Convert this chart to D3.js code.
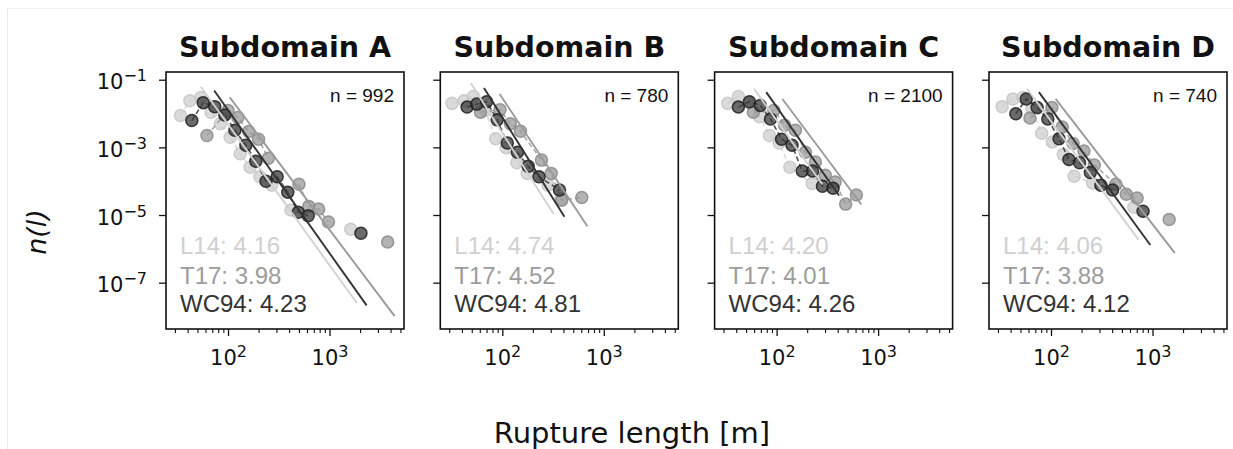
<!DOCTYPE html>
<html>
<head>
<meta charset="utf-8">
<script src="https://cdn.jsdelivr.net/npm/d3@7"></script>
<style>
  body { margin: 0; background: #fff; }
  svg { display: block; }
</style>
</head>
<body>
<svg id="chart" width="1233" height="449"></svg>
<script>
// ---------------- DATA ----------------
const titles = ["Subdomain A", "Subdomain B", "Subdomain C", "Subdomain D"];
const counts = [992, 780, 2100, 740];
const seriesNames = ["L14", "T17", "WC94"];
const expL14 = [4.16, 4.74, 4.20, 4.06];
const expT17 = [3.98, 4.52, 4.01, 3.88];
const expWC94 = [4.23, 4.81, 4.26, 4.12];

const yTicks = [1e-1, 1e-3, 1e-5, 1e-7];
const xTicks = [100, 1000];
const xMinorTicks = [30, 40, 50, 60, 70, 80, 90, 200, 300, 400, 500, 600, 700, 800, 900, 2000, 3000, 4000, 5000];

// Binned density points: [rupture length (m), n(l)]
const A_L14 = [[34,8.7e-3],[42,2.4e-2],[54,3.0e-2],[68,1.1e-2],[84,5.0e-3],[105,2.0e-3],[132,6.5e-4],[165,2.6e-4],[206,1.35e-4],[269,7.6e-5],[417,1.4e-5],[1620,3.8e-6]];
const A_T17 = [[62,2.24e-3],[100,1.23e-2],[125,7.6e-3],[160,2.95e-3],[200,1.74e-3],[250,4.8e-4],[500,8.1e-5],[625,1.8e-5],[782,1.5e-5],[977,6.2e-6],[3740,1.6e-6]];
const A_WC94 = [[44,6.2e-3],[57,2.1e-2],[74,1.6e-2],[93,9.1e-3],[117,3.2e-3],[150,1.15e-3],[188,3.9e-4],[237,1.0e-4],[305,1.35e-4],[388,4.7e-5],[492,1.2e-5],[617,9.5e-6],[2040,2.9e-6]];

const B_L14 = [[32,2.0e-2],[42,2.4e-2],[52,3.2e-2],[68,1.23e-2],[86,1.8e-3],[109,9.8e-4],[139,3.5e-4],[176,1.7e-4],[282,7.6e-5],[380,3.1e-5]];
const B_T17 = [[61,1.1e-2],[95,1.3e-2],[120,5.0e-3],[151,3.0e-3],[243,4.2e-4],[303,1.7e-4],[385,2.75e-5],[607,3.3e-5]];
const B_WC94 = [[45,1.55e-2],[56,1.9e-2],[70,2.24e-2],[89,6.5e-3],[112,1.35e-3],[141,7.2e-4],[180,2.75e-4],[230,1.35e-4],[366,5.5e-5]];

const C_L14 = [[33,2.0e-2],[42,3.2e-2],[53,2.1e-2],[68,8.1e-3],[85,2.24e-3],[106,1.35e-3],[135,2.6e-4],[224,8.5e-5]];
const C_T17 = [[59,1.1e-2],[94,1.23e-2],[120,4.5e-3],[153,3.2e-3],[192,7.2e-4],[241,3.7e-4],[301,1.5e-4],[377,9.5e-5],[479,2.1e-5],[611,3.9e-5]];
const C_WC94 = [[42,1.55e-2],[54,2.24e-2],[69,1.74e-2],[87,6.9e-3],[112,1.74e-3],[142,1.15e-3],[179,2.0e-4],[226,2.0e-4],[283,7.1e-5],[360,6.2e-5]];

const D_L14 = [[33,1.6e-2],[42,2.7e-2],[53,3.0e-2],[65,1.4e-2],[81,2.6e-3],[103,1.45e-3],[132,6.2e-4],[169,1.4e-4],[257,8.9e-5],[655,1.7e-5]];
const D_T17 = [[62,7.4e-3],[102,1.5e-2],[129,4.0e-3],[165,1.3e-3],[211,7.8e-4],[267,3.0e-4],[435,8.1e-5],[552,4.1e-5],[706,3.2e-5],[1460,7.4e-6]];
const D_WC94 = [[45,9.8e-3],[57,2.7e-2],[73,1.5e-2],[93,6.9e-3],[120,1.8e-3],[150,4.4e-4],[191,3.5e-4],[244,1.8e-4],[310,7.6e-5],[404,5.5e-5],[807,1.3e-5]];

// Power-law fit lines: [x start, x end, n(l) at x start]; slope = -exponent
const fitL14 = [[54,1860,0.062],[49,320,0.078],[60,282,0.054],[58,731,0.054]];
const fitT17 = [[104,4380,0.030],[94,689,0.038],[114,684,0.027],[111,1660,0.027]];
const fitWC94 = [[73,2320,0.048],[66,409,0.057],[79,412,0.043],[76,951,0.043]];

const pointsL14 = [A_L14, B_L14, C_L14, D_L14];
const pointsT17 = [A_T17, B_T17, C_T17, D_T17];
const pointsWC94 = [A_WC94, B_WC94, C_WC94, D_WC94];

// ---------------- STYLE / LAYOUT ----------------
const panelLefts = [166, 440.3, 714.6, 989];
const panelTop = 72, panelW = 238, panelH = 257;
const styles = [
  { fill: "#cfcfcf", stroke: "#c6c6c6", line: "#d2d2d2", text: "#d0d0d0" },
  { fill: "#999999", stroke: "#8a8a8a", line: "#9a9a9a", text: "#9c9c9c" },
  { fill: "#383838", stroke: "#1e1e1e", line: "#333333", text: "#333333" }
];

const svg = d3.select("#chart");
// faint figure border
svg.append("line").attr("x1", 7.5).attr("x2", 7.5).attr("y1", 8).attr("y2", 449).attr("stroke", "#ececec");
svg.append("line").attr("x1", 7.5).attr("x2", 1233).attr("y1", 8.5).attr("y2", 8.5).attr("stroke", "#f2f2f2");

const x = d3.scaleLog().domain([Math.pow(10, 1.389), Math.pow(10, 3.734)]).range([0, panelW]);
const y = d3.scaleLog().domain([Math.pow(10, -8.37), Math.pow(10, -0.772)]).range([panelH, 0]);

function supLabel(sel, base, exp, dy) {
  sel.text(null).attr("font-size", 21).attr("font-family", "DejaVu Sans").attr("fill", "#111");
  sel.append("tspan").text(base).attr("font-size", 21);
  sel.append("tspan").text(exp).attr("font-size", 16).attr("dy", dy);
}

// break the dashed connector where bins are empty (large gap in log x)
function segments(pts) {
  const segs = [];
  let cur = [pts[0]];
  for (let k = 1; k < pts.length; k++) {
    if (Math.log10(pts[k][0] / pts[k - 1][0]) > 0.22) { segs.push(cur); cur = []; }
    cur.push(pts[k]);
  }
  segs.push(cur);
  return segs.filter(s => s.length > 1);
}

titles.forEach((title, i) => {
  const g = svg.append("g").attr("transform", `translate(${panelLefts[i]},${panelTop})`);

  const clip = "clip" + i;
  g.append("clipPath").attr("id", clip).append("rect").attr("width", panelW).attr("height", panelH);
  const plot = g.append("g").attr("clip-path", `url(#${clip})`);

  const seriesPts = [pointsL14[i], pointsT17[i], pointsWC94[i]];
  const fits = [fitL14[i], fitT17[i], fitWC94[i]];
  const exps = [expL14[i], expT17[i], expWC94[i]];

  const lineGen = d3.line().x(d => x(d[0])).y(d => y(d[1]));

  seriesPts.forEach((pts, s) => {
    const st = styles[s];
    segments(pts).forEach(seg => {
      plot.append("path").attr("d", lineGen(seg))
        .attr("fill", "none").attr("stroke", st.line).attr("stroke-width", 1.6)
        .attr("stroke-dasharray", "5,3").attr("opacity", 0.85);
    });
    plot.selectAll(null).data(pts).enter().append("circle")
      .attr("cx", d => x(d[0])).attr("cy", d => y(d[1])).attr("r", 6)
      .attr("fill", st.fill).attr("fill-opacity", 0.75)
      .attr("stroke", st.stroke).attr("stroke-opacity", 0.85).attr("stroke-width", 1.5);
  });

  fits.forEach((f, s) => {
    const alpha = exps[s];
    const x0 = f[0], x1 = f[1], y0 = f[2];
    const y1 = y0 * Math.pow(x1 / x0, -alpha);
    plot.append("line")
      .attr("x1", x(x0)).attr("y1", y(y0)).attr("x2", x(x1)).attr("y2", y(y1))
      .attr("stroke", styles[s].line).attr("stroke-width", 1.9);
  });

  // frame
  g.append("rect").attr("width", panelW).attr("height", panelH)
    .attr("fill", "none").attr("stroke", "#111").attr("stroke-width", 1.6);

  // y axis
  const yAxis = d3.axisLeft(y).tickValues(yTicks).tickSize(7).tickPadding(12);
  const yg = g.append("g").call(yAxis);
  yg.select(".domain").remove();
  yg.selectAll(".tick line").attr("stroke", "#111").attr("stroke-width", 1.3);
  if (i === 0) {
    yg.selectAll(".tick text").each(function(d) {
      const e = Math.round(Math.log10(d));
      supLabel(d3.select(this), "10", "\u2212" + Math.abs(e), -8);
    }).attr("dy", "0.43em");
  } else {
    yg.selectAll(".tick text").remove();
  }

  // x axis major
  const xAxis = d3.axisBottom(x).tickValues(xTicks).tickSize(7).tickPadding(12);
  const xg = g.append("g").attr("transform", `translate(0,${panelH})`).call(xAxis);
  xg.select(".domain").remove();
  xg.selectAll(".tick line").attr("stroke", "#111").attr("stroke-width", 1.3);
  xg.selectAll(".tick text").each(function(d) {
    const e = Math.round(Math.log10(d));
    supLabel(d3.select(this), "10", String(e), -8);
  }).attr("dy", "0.8em");

  // x axis minor
  const xMinor = d3.axisBottom(x).tickValues(xMinorTicks).tickSize(4).tickFormat("");
  const xmg = g.append("g").attr("transform", `translate(0,${panelH})`).call(xMinor);
  xmg.select(".domain").remove();
  xmg.selectAll(".tick line").attr("stroke", "#111").attr("stroke-width", 1.1);

  // title
  g.append("text").attr("x", panelW / 2).attr("y", 57 - panelTop)
    .attr("text-anchor", "middle").attr("font-family", "DejaVu Sans").attr("font-weight", "bold")
    .attr("font-size", 28.5).attr("fill", "#111").text(title);

  // n annotation
  g.append("text").attr("x", panelW - 10).attr("y", 102 - panelTop)
    .attr("text-anchor", "end").attr("font-family", "Liberation Sans, Arial").attr("font-size", 19)
    .attr("fill", "#111").text("n = " + counts[i]);

  // exponent labels
  const baselines = [254, 284, 312];
  seriesNames.forEach((name, s) => {
    g.append("text").attr("x", 14).attr("y", baselines[s] - panelTop)
      .attr("font-family", "Liberation Sans, Arial").attr("font-size", 24)
      .attr("fill", styles[s].text).text(name + ": " + exps[s].toFixed(2));
  });
});

// axis labels
svg.append("text").attr("transform", "translate(46,232) rotate(-90)")
  .attr("text-anchor", "middle").attr("font-family", "DejaVu Sans").attr("font-style", "italic")
  .attr("font-size", 27).attr("fill", "#111").text("n(l)");
svg.append("text").attr("x", 632).attr("y", 443)
  .attr("text-anchor", "middle").attr("font-family", "DejaVu Sans")
  .attr("font-size", 29).attr("fill", "#111").text("Rupture length [m]");
</script>
</body>
</html>
